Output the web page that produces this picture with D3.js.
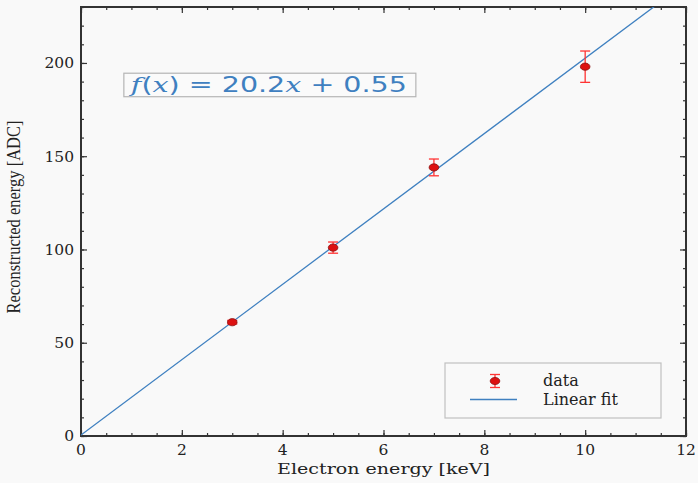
<!DOCTYPE html>
<html>
<head>
<meta charset="utf-8">
<script src="https://cdn.jsdelivr.net/npm/d3@7"></script>
<style>
  body { margin: 0; background: #f9f9f9; }
  svg { display: block; }
</style>
</head>
<body>
<svg id="chart" width="698" height="483"></svg>
<script>
const energies = [3, 5, 7, 10];
const adcValues = [61, 101, 144, 198];
const adcErrors = [1, 3, 4.5, 8.4];
const fitSlope = 20.2;
const fitIntercept = 0.55;
const xTicks = [0, 2, 4, 6, 8, 10, 12];
const yTicks = [0, 50, 100, 150, 200];

const svg = d3.select("#chart"),
  margin = { top: 7, right: 12, bottom: 47, left: 81 },
  width = +svg.attr("width") - margin.left - margin.right,
  height = +svg.attr("height") - margin.top - margin.bottom;

const chart = svg.append("g")
  .attr("transform", `translate(${margin.left},${margin.top})`);

const x = d3.scaleLinear().domain([0, 12]).range([0, width]);
const y = d3.scaleLinear().domain([0, 230]).range([height, 0]);

const frameColor = "#333";
const serif = "'DejaVu Serif', serif";

// minor + major ticks on all four sides, pointing inward
const xMinor = d3.range(0, 12.01, 0.5);
const yMinor = d3.range(0, 230.01, 10);

function tickGroup(axis) {
  return axis.tickSizeOuter(0).tickFormat("");
}

chart.append("g").attr("transform", `translate(0,${height})`)
  .call(tickGroup(d3.axisBottom(x).tickValues(xMinor).tickSizeInner(-3)));
chart.append("g").attr("transform", `translate(0,${height})`)
  .call(tickGroup(d3.axisBottom(x).tickValues(xTicks).tickSizeInner(-6)));
chart.append("g")
  .call(tickGroup(d3.axisTop(x).tickValues(xMinor).tickSizeInner(-3)));
chart.append("g")
  .call(tickGroup(d3.axisTop(x).tickValues(xTicks).tickSizeInner(-6)));
chart.append("g")
  .call(tickGroup(d3.axisLeft(y).tickValues(yMinor).tickSizeInner(-3)));
chart.append("g")
  .call(tickGroup(d3.axisLeft(y).tickValues(yTicks).tickSizeInner(-6)));
chart.append("g").attr("transform", `translate(${width},0)`)
  .call(tickGroup(d3.axisRight(y).tickValues(yMinor).tickSizeInner(-3)));
chart.append("g").attr("transform", `translate(${width},0)`)
  .call(tickGroup(d3.axisRight(y).tickValues(yTicks).tickSizeInner(-6)));

chart.selectAll(".domain").remove();
chart.selectAll(".tick line").attr("stroke", frameColor).attr("stroke-width", 1.2);

chart.append("rect")
  .attr("width", width).attr("height", height)
  .attr("fill", "none").attr("stroke", frameColor).attr("stroke-width", 2);

// tick labels
chart.selectAll(".xlab").data(xTicks).join("text")
  .attr("x", (d) => x(d)).attr("y", height + 19)
  .attr("text-anchor", "middle")
  .attr("font-family", serif).attr("font-size", 15.5).attr("fill", "#222")
  .text((d) => d);

chart.selectAll(".ylab").data(yTicks).join("text")
  .attr("x", -7).attr("y", (d) => y(d)).attr("dy", "0.35em")
  .attr("text-anchor", "end")
  .attr("font-family", serif).attr("font-size", 15.5).attr("fill", "#222")
  .text((d) => d);

// axis titles
chart.append("text")
  .attr("x", width / 2).attr("y", height + 38)
  .attr("text-anchor", "middle")
  .attr("font-family", serif).attr("font-size", 15.5).attr("fill", "#222")
  .attr("textLength", 213).attr("lengthAdjust", "spacingAndGlyphs")
  .text("Electron energy [keV]");

chart.append("text")
  .attr("transform", "rotate(-90)")
  .attr("x", -210).attr("y", -61)
  .attr("text-anchor", "middle")
  .attr("font-family", "'Liberation Serif', serif").attr("font-size", 18).attr("fill", "#222")
  .attr("textLength", 193).attr("lengthAdjust", "spacingAndGlyphs")
  .text("Reconstructed energy [ADC]");

// fit line, clipped to the frame
svg.append("defs").append("clipPath").attr("id", "plotClip")
  .append("rect").attr("width", width).attr("height", height);

const fitX = [0, 12];
chart.append("path")
  .datum(fitX)
  .attr("clip-path", "url(#plotClip)")
  .attr("fill", "none").attr("stroke", "#3f80c0").attr("stroke-width", 1.3)
  .attr("d", d3.line().x((d) => x(d)).y((d) => y(fitSlope * d + fitIntercept)));

// data with error bars
const points = energies.map((e, i) => ({ e, v: adcValues[i], err: adcErrors[i] }));
const errColor = "#ff3333";
const pts = chart.selectAll(".pt").data(points).join("g");
pts.append("line")
  .attr("x1", (d) => x(d.e)).attr("x2", (d) => x(d.e))
  .attr("y1", (d) => y(d.v - d.err)).attr("y2", (d) => y(d.v + d.err))
  .attr("stroke", errColor).attr("stroke-width", 1.3);
pts.selectAll(".cap").data((d) => [d.v - d.err, d.v + d.err].map((v) => ({ e: d.e, v })))
  .join("line")
  .attr("x1", (d) => x(d.e) - 5).attr("x2", (d) => x(d.e) + 5)
  .attr("y1", (d) => y(d.v)).attr("y2", (d) => y(d.v))
  .attr("stroke", errColor).attr("stroke-width", 1.3);
pts.append("ellipse")
  .attr("cx", (d) => x(d.e)).attr("cy", (d) => y(d.v))
  .attr("rx", 4.8).attr("ry", 3.6)
  .attr("fill", "#dd1111").attr("stroke", "#8a1010").attr("stroke-width", 0.8);

// equation box
const eq = chart.append("g");
eq.append("rect")
  .attr("x", x(0.85)).attr("y", y(194.5))
  .attr("width", 292).attr("height", 23.5)
  .attr("fill", "#fafafa").attr("stroke", "#b5b5b5").attr("stroke-width", 1.2);
const eqText = eq.append("text")
  .attr("x", x(0.85) + 7).attr("y", y(194.5) + 19)
  .attr("font-family", "'DejaVu Sans', sans-serif").attr("font-size", 21)
  .attr("fill", "#3f80c0")
  .attr("textLength", 276).attr("lengthAdjust", "spacingAndGlyphs");
eqText.append("tspan").attr("font-family", serif).attr("font-style", "italic").text("f");
eqText.append("tspan").text("(");
eqText.append("tspan").attr("font-family", serif).attr("font-style", "italic").text("x");
eqText.append("tspan").text(`) = ${fitSlope}`);
eqText.append("tspan").attr("font-family", serif).attr("font-style", "italic").text("x");
eqText.append("tspan").text(` + ${fitIntercept}`);

// legend
const lg = chart.append("g").attr("transform", `translate(${445 - margin.left},${363 - margin.top})`);
lg.append("rect").attr("width", 216).attr("height", 55)
  .attr("fill", "#f9f9f9").attr("stroke", "#c0c0c0").attr("stroke-width", 1.2);
lg.append("line").attr("x1", 50).attr("x2", 50).attr("y1", 11.5).attr("y2", 24.5)
  .attr("stroke", errColor).attr("stroke-width", 1.3);
lg.append("line").attr("x1", 45).attr("x2", 55).attr("y1", 11.5).attr("y2", 11.5)
  .attr("stroke", errColor).attr("stroke-width", 1.3);
lg.append("line").attr("x1", 45).attr("x2", 55).attr("y1", 24.5).attr("y2", 24.5)
  .attr("stroke", errColor).attr("stroke-width", 1.3);
lg.append("ellipse").attr("cx", 50).attr("cy", 18).attr("rx", 4.8).attr("ry", 3.6)
  .attr("fill", "#dd1111").attr("stroke", "#8a1010").attr("stroke-width", 0.8);
lg.append("line").attr("x1", 25).attr("x2", 72).attr("y1", 36.5).attr("y2", 36.5)
  .attr("stroke", "#3f80c0").attr("stroke-width", 1.3);
lg.append("text").attr("x", 98).attr("y", 23)
  .attr("font-family", serif).attr("font-size", 16).attr("fill", "#222").text("data");
lg.append("text").attr("x", 98).attr("y", 42)
  .attr("font-family", serif).attr("font-size", 16).attr("fill", "#222").text("Linear fit");
</script>
</body>
</html>
